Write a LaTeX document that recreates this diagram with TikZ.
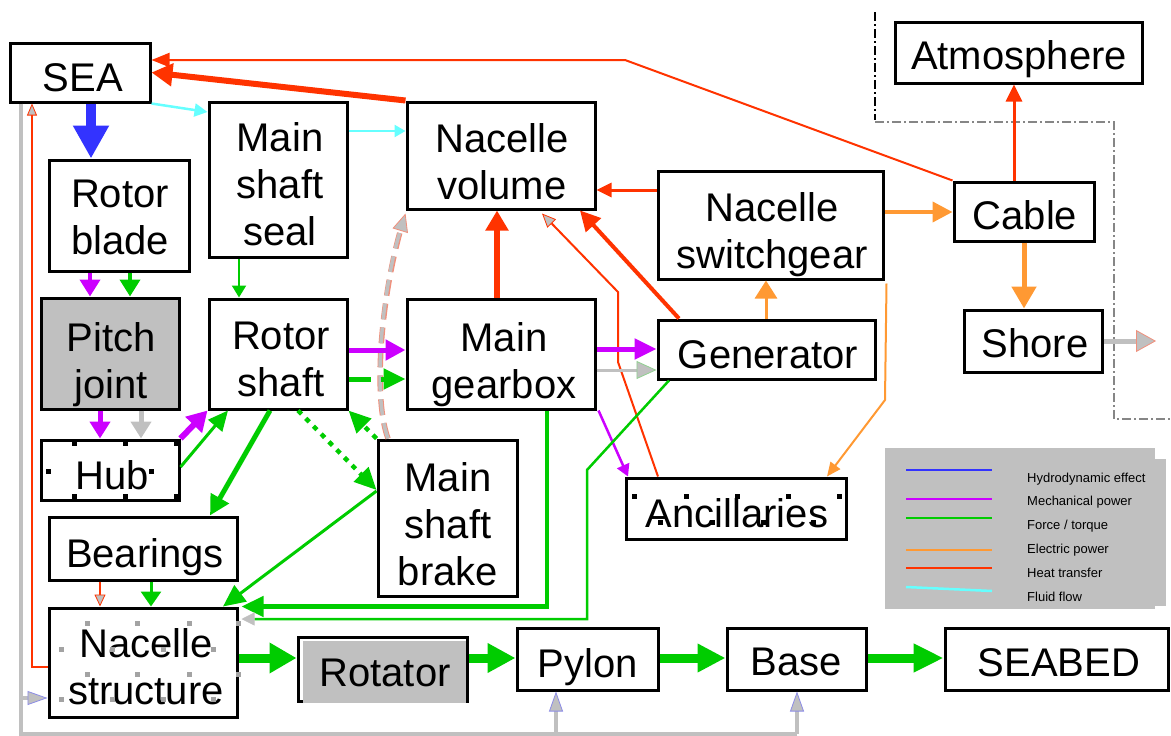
\documentclass[tikz,border=0pt]{standalone}
\usepackage{fontspec}
\setmainfont{Liberation Sans}
\usetikzlibrary{arrows.meta}
\definecolor{hydro}{HTML}{3333FF}
\definecolor{mech}{HTML}{CC00FF}
\definecolor{force}{HTML}{00CC00}
\definecolor{elec}{HTML}{FF9933}
\definecolor{heat}{HTML}{FF3300}
\definecolor{fluid}{HTML}{66FFFF}
\definecolor{panel}{HTML}{C0C0C0}
\definecolor{rim}{HTML}{F0907C}
\definecolor{bluerim}{HTML}{8C8CE6}
\definecolor{greenrim}{HTML}{90D090}

\tikzset{
  box/.style={draw=black, line width=3pt, fill=white, inner sep=0pt},
  sz/.style 2 args={minimum width=#1pt, minimum height=#2pt},
  txt/.style={inner sep=0pt, anchor=north, align=center, font=\fontsize{40}{47}\selectfont},
  lgd/.style={inner sep=0pt, anchor=base west, font=\fontsize{13}{15}\selectfont},
  tipto/.style 2 args={-{Triangle[length=#1pt, width=#2pt]}},
  gtipto/.style n args={3}{-{Triangle[length=#1pt, width=#2pt, color=#3, fill=panel, line width=0.8pt]}},
}

\begin{document}
\begin{tikzpicture}[x=1pt, y=-1pt]
\useasboundingbox (0,0) rectangle (1171,736);

% ---------- blocks ----------
\node[box, sz={140}{59}]  (sea)  at (80,72.5)    {};
\node[box, sz={140}{111}] (rb)   at (119,215.5)  {};
\node[box, sz={138}{155}] (mss)  at (278,179.5)  {};
\node[box, sz={188}{107}] (nv)   at (501,155.5)  {};
\node[box, sz={225}{108}] (sw)   at (770.5,225)  {};
\node[box, sz={217}{59}]  (gen)  at (766.5,349.5){};
\node[box, sz={188}{110}] (gb)   at (501,354)    {};
\node[box, sz={138}{110}] (rs)   at (278,354)    {};
\node[box, sz={139}{156}] (msb)  at (447.5,518)  {};
\node[box, sz={138}{111}, fill=panel] (pj) at (110,353.5) {};
\node[box, sz={138}{60}]  (hub)  at (110,470)    {};
\node[box, sz={188}{63}]  (brg)  at (143,548.5)  {};
\node[box, sz={188}{109}] (ns)   at (143,662.5)  {};
\node[box, sz={169}{64}]  (rot)  at (382.5,669)  {};
\fill[panel] (303,641) rectangle (466,703);
\node[box, sz={141}{62}]  (pyl)  at (587.5,659)  {};
\node[box, sz={139}{62}]  (base) at (796.5,659)  {};
\node[box, sz={223}{62}]  (sbed) at (1056.5,659) {};
\node[box, sz={220}{61}]  (anc)  at (736,508.5)  {};
\node[box, sz={140}{59}]  (cable) at (1024,211.5) {};
\node[box, sz={138}{62}]  (shore) at (1033,341)  {};
\node[box, sz={247}{61}]  (atm)  at (1018.5,52.5) {};

% ---------- block texts ----------
\node[txt] (sea-t)   at (83,63)    {SEA};
\node[txt] (rb-t)    at (120,180)  {Rotor\\blade};
\node[txt] (mss-t)   at (280,122)  {Main\\shaft\\seal};
\node[txt] (nv-t)    at (502,123)  {Nacelle\\volume};
\node[txt] (sw-t)    at (772,192)  {Nacelle\\switchgear};
\node[txt] (gen-t)   at (768,340)  {Generator};
\node[txt] (gb-t)    at (504,322)  {Main\\gearbox};
\node[txt] (rs-t)    at (281,322)  {Rotor\\shaft};
\node[txt] (msb-t)   at (448,462)  {Main\\shaft\\brake};
\node[txt] (pj-t)    at (111,322)  {Pitch\\joint};
\node[txt] (hub-t)   at (112,460)  {Hub};
\node[txt] (brg-t)   at (145,538)  {Bearings};
\node[txt] (ns-t)    at (146,628)  {Nacelle\\structure};
\node[txt] (rot-t)   at (385,659)  {Rotator};
\node[txt] (pyl-t)   at (588,648)  {Pylon};
\node[txt] (base-t)  at (796,648)  {Base};
\node[txt] (sbed-t)  at (1059,648) {SEABED};
\node[txt] (anc-t)   at (737,498)  {Ancillaries};
\node[txt] (cable-t) at (1025,200) {Cable};
\node[txt] (shore-t) at (1035,328) {Shore};
\node[txt] (atm-t)   at (1019,40)  {Atmosphere};

% ---------- system boundary ----------
\draw[black, line width=2pt, dash pattern=on 9pt off 3pt on 2pt off 3pt] (875,12) -- (875,120);
\draw[panel!70!black, line width=1.5pt, dash pattern=on 9pt off 3pt on 2pt off 3pt]
  (875,122) -- (1114,122) -- (1114,419) -- (1171,419);

% ---------- sea wetting (grey) ----------
\coordinate (wj1) at (21,698);
\coordinate (wj2) at (556,734);
\coordinate (wj3) at (797,734);
\draw[panel, line width=4pt] (sea.south -| 21,0) |- (base.south |- 0,734);
\draw[panel, line width=4pt, gtipto={20}{14}{bluerim}] (wj1) -- (ns.west |- wj1);
\draw[panel, line width=4pt, gtipto={20}{14}{bluerim}] (wj2) -- (pyl.south -| wj2);
\draw[panel, line width=4pt, gtipto={20}{14}{bluerim}] (wj3) -- (base.south -| wj3);

% ---------- hydrodynamic effect ----------
\draw[hydro, line width=10pt, tipto={33}{34}] (sea.south -| 91,0) -- (rb.north -| 91,0);

% ---------- fluid flow ----------
\draw[fluid, line width=2.5pt, tipto={13}{13}] (sea.south east) -- (mss.west |- 0,112);
\draw[fluid, line width=2.5pt, tipto={11}{12}] (mss.east |- 0,131) -- (nv.west |- 0,131);

% ---------- heat transfer ----------
\draw[heat, line width=6pt, tipto={21}{22}] (nv.north west) -- (sea.east);
\coordinate (hb1) at (625,60);
\draw[heat, line width=2pt, tipto={18}{14}] (cable.north west) -- (hb1) -- (sea.east |- hb1);
\draw[heat, line width=3pt, tipto={15}{14}] (sw.west |- 0,190) -- (nv.east |- 0,190);
\draw[heat, line width=6pt, tipto={20}{22}] (gb.north -| 497,0) -- (nv.south -| 497,0);
\draw[heat, line width=4pt, tipto={20}{20}] (gen.north west -| 679,0) -- (nv.south -| 580,0);
\draw[heat, line width=2pt, gtipto={14}{12}{heat}]
  (anc.north -| 658,0) -- (618,362) -- (618,292) -- ([yshift=-3pt]nv.south -| 542,0);
\draw[heat, line width=3pt, tipto={17}{16}] (cable.north -| 1014,0) -- (atm.south -| 1014,0);
\draw[heat, line width=2pt, gtipto={12}{11}{heat}] (brg.south -| 100,0) -- (ns.north -| 100,0);
\draw[heat, line width=2pt, gtipto={12}{10}{heat}] (ns.west |- 0,667) -| (sea.south -| 32,0);

% grey dashed link from the brake to the nacelle volume
\draw[rim, line width=5.5pt, dash pattern=on 16pt off 8pt, shorten >=8pt]
  (msb.north -| 388,0) .. controls (372,395) and (382,290) .. ([yshift=-3pt]nv.south west);
\draw[panel, line width=3.5pt, dash pattern=on 16pt off 8pt, gtipto={18}{16}{rim}]
  (msb.north -| 388,0) .. controls (372,395) and (382,290) .. ([yshift=-3pt]nv.south west);

% ---------- mechanical power ----------
\draw[mech, line width=4pt, tipto={17}{20}] (rb.south -| 90,0) -- (pj.north -| 90,0);
\draw[mech, line width=5pt, tipto={17}{20}] (pj.south -| 100,0) -- (hub.north -| 100,0);
\draw[mech, line width=6pt, tipto={20}{22}] (hub.north east) -- (rs.south west);
\draw[mech, line width=5pt, tipto={20}{20}] (rs.east |- 0,350) -- (gb.west |- 0,350);
\draw[mech, line width=5pt, tipto={22}{20}] (gb.east |- 0,349) -- (gen.west |- 0,349);
\draw[mech, line width=2.5pt, tipto={12}{13}] ([xshift=2pt]gb.south east) -- (anc.north west -| 628,0);

% ---------- force / torque ----------
\draw[force, line width=4pt, tipto={17}{20}] (rb.south -| 130,0) -- (pj.north -| 130,0);
\draw[panel, line width=5pt, tipto={17}{20}] (pj.south -| 141,0) -- (hub.north -| 141,0);
\draw[force, line width=2pt, tipto={12}{14}] (mss.south -| 239,0) -- (rs.north -| 239,0);
\draw[force, line width=3pt, tipto={20}{18}] (hub.east |- 0,467) -- (rs.south -| 228,0);
\draw[force, line width=5pt, tipto={20}{20}] (rs.south -| 270,0) -- (brg.north -| 210,0);
\draw[force, line width=5pt, dash pattern=on 22pt off 10pt, tipto={22}{20}] (rs.east |- 0,379) -- (gb.west |- 0,379);
\draw[force, line width=4.5pt, dash pattern=on 5pt off 6pt, tipto={22}{20}] (rs.south -| 298,0) -- (msb.west |- 0,490);
\draw[force, line width=4.5pt, dash pattern=on 5pt off 6pt, tipto={22}{20}] (msb.north west) -- (rs.south east);
\draw[force, line width=3pt, tipto={22}{20}] (msb.west |- 0,491) -- (ns.north -| 223,0);
\draw[force, line width=4.5pt, tipto={22}{20}] (gb.south -| 547,0) |- ([xshift=3pt]ns.north east);
\draw[force, line width=2.5pt, gtipto={13}{13}{panel}] (gen.south west -| 669,0) -- (587,470) |- ([xshift=3pt]ns.east |- 0,619);
\draw[panel, line width=3pt, gtipto={20}{18}{greenrim}] (gb.east |- 0,370) -- (gen.west |- 0,370);
\draw[force, line width=3pt, tipto={15}{20}] (brg.south -| 151,0) -- (ns.north -| 151,0);
\draw[force, line width=9pt, tipto={27}{29}] (ns.east |- 0,658) -- (rot.west |- 0,658);
\draw[force, line width=9pt, tipto={28}{28}] (rot.east |- 0,658) -- (pyl.west |- 0,658);
\draw[force, line width=9pt, tipto={28}{27}] (pyl.east |- 0,658) -- (base.west |- 0,658);
\draw[force, line width=9pt, tipto={30}{27}] (base.east |- 0,658) -- (sbed.west |- 0,658);

% ---------- electric power ----------
\draw[elec, line width=3pt, tipto={18}{22}] (gen.north -| 766,0) -- (sw.south -| 766,0);
\draw[elec, line width=4pt, tipto={20}{20}] (sw.east |- 0,212) -- (cable.west |- 0,212);
\draw[elec, line width=2pt, tipto={14}{12}] ([xshift=2pt,yshift=-3pt]sw.south east) -- (885,400) -- (anc.north -| 827,0);
\draw[elec, line width=5pt, tipto={22}{24}] (cable.south -| 1024,0) -- (shore.north -| 1024,0);
\coordinate (out) at (1156,341);
\draw[panel, line width=5pt, gtipto={20}{22}{rim}] (shore.east |- out) -- (out);

% ---------- selection handles ----------
\foreach \x/\y in {74/443,125/443,176/443,48/471,151/471,74/496,125/496,176/496,
                   634/496,686/496,737/496,788/496,839/496,660/522,712/522,763/522,813/522}
  \fill[black] (\x-2.5,\y-2.5) rectangle ++(5,5);
\foreach \x/\y in {87/623,137/623,189/623,238/623,61/649,112/649,163/649,213/649,
                   87/674,137/674,189/674,238/674,61/699,112/699,163/699,213/699}
  \fill[panel!85!black] (\x-2.5,\y-2.5) rectangle ++(5,5);

% ---------- legend ----------
\fill[panel] (885,448) rectangle (1155,609);
\fill[panel] (890,459) rectangle (1166,606);
\draw[hydro, line width=2.5pt] (906,470) -- (992,470);
\draw[mech,  line width=2.5pt] (906,499) -- (992,499);
\draw[force, line width=2.5pt] (906,518) -- (992,518);
\draw[elec,  line width=2.5pt] (906,550) -- (992,550);
\draw[heat,  line width=2.5pt] (906,568) -- (992,568);
\draw[fluid, line width=2.5pt] (906,587) -- (992,591);
\node[lgd] (lg1) at (1027,482) {Hydrodynamic effect};
\node[lgd] (lg2) at (1027,505) {Mechanical power};
\node[lgd] (lg3) at (1027,529) {Force / torque};
\node[lgd] (lg4) at (1027,553) {Electric power};
\node[lgd] (lg5) at (1027,577) {Heat transfer};
\node[lgd] (lg6) at (1027,601) {Fluid flow};
\end{tikzpicture}
\end{document}
